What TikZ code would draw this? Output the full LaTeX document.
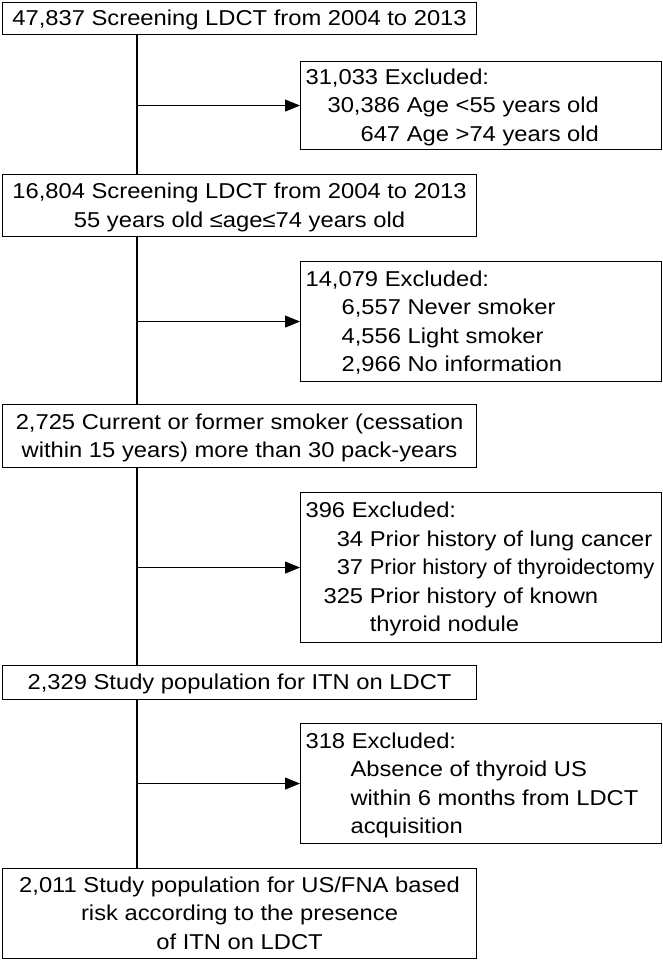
\documentclass[tikz,border=0pt]{standalone}
\usepackage{graphicx}
\usepackage{fontspec}
\setmainfont{Liberation Sans}[FakeStretch=1.105]
\usetikzlibrary{arrows.meta}
\newcommand\ls{\rule[-7pt]{0pt}{28.5pt}}
\renewcommand\arraystretch{0}
\begin{document}
\begin{tikzpicture}[x=1pt,y=-1pt,
  every node/.style={font=\fontsize{21.5}{28.5}\selectfont},
  mainbox/.style={draw, line width=1.1pt, inner sep=0pt, minimum width=474pt, anchor=north west},
  exclbox/.style={draw, line width=1.1pt, inner sep=0pt, inner xsep=5pt, minimum width=361pt, anchor=north west},
  link/.style={line width=1.1pt},
  arr/.style={line width=1.1pt, -{Triangle[length=15pt,width=12pt]}}]
\useasboundingbox (0,0) rectangle (663,961);
\coordinate (trunk) at (137,0);

\node[mainbox, minimum height=32pt] (b1) at (2,2)
  {\begin{tabular}{@{}c@{}}\ls 47,837 Screening LDCT from 2004 to 2013\end{tabular}};

\node[exclbox, minimum height=88pt] (e1) at (300,61)
  {\makebox[351pt][l]{\begin{tabular}{@{}r@{ }l@{}}
  \multicolumn{2}{@{}l@{}}{\ls 31,033 Excluded:}\\
  \ls\hspace*{22pt}30,386 & Age <55 years old\\
  \ls 647 & Age >74 years old
  \end{tabular}}};

\node[mainbox, minimum height=62pt] (b2) at (2,174)
  {\begin{tabular}{@{}c@{}}\ls 16,804 Screening LDCT from 2004 to 2013\\
  \ls 55 years old ≤age≤74 years old\end{tabular}};

\node[exclbox, minimum height=120pt] (e2) at (300,261)
  {\makebox[351pt][l]{\begin{tabular}{@{}r@{ }l@{}}
  \multicolumn{2}{@{}l@{}}{\ls 14,079 Excluded:}\\
  \ls\hspace*{36pt}6,557 & Never smoker\\
  \ls 4,556 & Light smoker\\
  \ls 2,966 & No information
  \end{tabular}}};

\node[mainbox, minimum height=63pt] (b3) at (2,404)
  {\begin{tabular}{@{}c@{}}\ls 2,725 Current or former smoker (cessation\\
  \ls within 15 years) more than 30 pack-years\end{tabular}};

\node[exclbox, minimum height=150pt] (e3) at (300,492)
  {\makebox[351pt][l]{\begin{tabular}{@{}r@{ }l@{}}
  \multicolumn{2}{@{}l@{}}{\ls 396 Excluded:}\\
  \ls 34 & Prior history of lung cancer\\
  \ls 37 & \scalebox{0.925}[1]{Prior history of thyroidectomy}\\
  \ls\hspace*{18pt}325 & Prior history of known\\
  \ls & thyroid nodule
  \end{tabular}}};

\node[mainbox, minimum height=34pt] (b4) at (2,665)
  {\begin{tabular}{@{}c@{}}\ls 2,329 Study population for ITN on LDCT\end{tabular}};

\node[exclbox, minimum height=120pt] (e4) at (300,723)
  {\makebox[351pt][l]{\begin{tabular}{@{}l@{}}
  \ls 318 Excluded:\\
  \ls\hspace*{45pt}Absence of thyroid US\\
  \ls\hspace*{45pt}within 6 months from LDCT\\
  \ls\hspace*{45pt}acquisition
  \end{tabular}}};

\node[mainbox, minimum height=90pt] (b5) at (2,868)
  {\begin{tabular}{@{}c@{}}\ls 2,011 Study population for US/FNA based\\
  \ls risk according to the presence\\
  \ls of ITN on LDCT\end{tabular}};

\draw[link] (b1.south -| trunk) -- (b2.north -| trunk);
\draw[link] (b2.south -| trunk) -- (b3.north -| trunk);
\draw[link] (b3.south -| trunk) -- (b4.north -| trunk);
\draw[link] (b4.south -| trunk) -- (b5.north -| trunk);
\draw[arr] (e1.west -| trunk) -- (e1.west);
\draw[arr] (e2.west -| trunk) -- (e2.west);
\draw[arr] (e3.west -| trunk) -- (e3.west);
\draw[arr] (e4.west -| trunk) -- (e4.west);
\end{tikzpicture}
\end{document}
